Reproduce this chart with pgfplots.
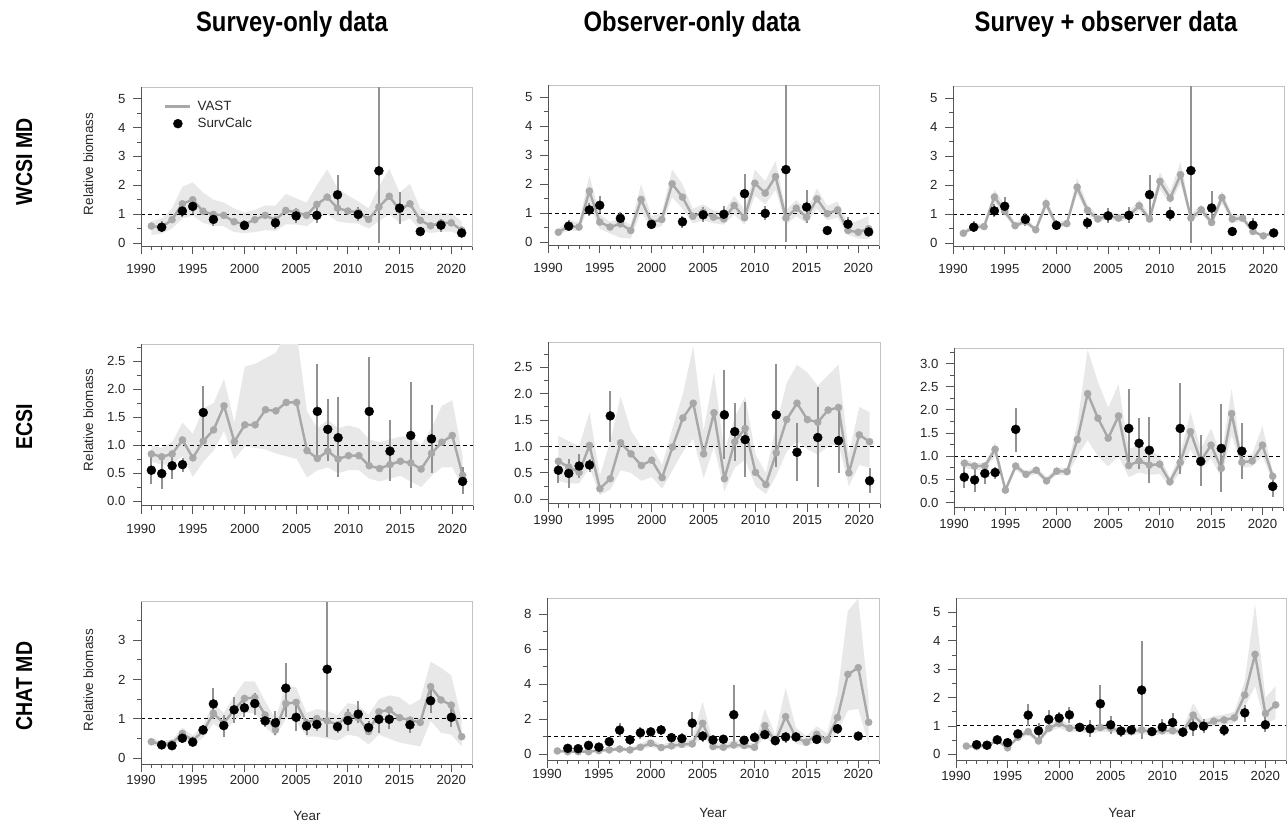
\documentclass[border=0pt]{standalone}
\usepackage{fontspec}
\setmainfont{Liberation Sans}
\newfontfamily\headfont[FakeStretch=0.85]{Liberation Sans}
\usepackage{pgfplots}
\pgfplotsset{compat=1.18}
\usepackage{pgfplotstable}
\usepgfplotslibrary{fillbetween}

\definecolor{band}{RGB}{232,232,232}
\definecolor{vast}{RGB}{168,168,168}
\definecolor{ebar}{RGB}{145,145,145}
\definecolor{frame}{RGB}{195,195,195}
\definecolor{axisdark}{RGB}{85,85,85}

% ---------- WCSI MD ----------
\pgfplotstableread{
yr v lo hi
1991 0.59 0.28 0.75
1992 0.55 0.33 0.85
1993 0.81 0.50 1.20
1994 1.36 0.85 1.95
1995 1.50 0.95 2.10
1996 1.10 0.70 1.75
1997 0.99 0.60 1.50
1998 0.96 0.58 1.40
1999 0.74 0.38 1.20
2000 0.65 0.35 1.05
2001 0.81 0.38 1.15
2002 0.96 0.45 1.30
2003 0.80 0.42 1.30
2004 1.13 0.65 1.70
2005 1.07 0.65 1.55
2006 0.96 0.58 1.40
2007 1.34 0.85 2.00
2008 1.59 1.00 2.55
2009 1.21 0.75 1.90
2010 1.11 0.70 1.65
2011 1.07 0.68 1.45
2012 0.82 0.50 1.20
2013 1.25 0.75 1.95
2014 1.62 1.00 2.57
2015 1.15 0.70 1.75
2016 1.36 0.85 2.05
2017 0.79 0.45 1.20
2018 0.60 0.35 1.00
2019 0.70 0.40 1.05
2020 0.70 0.40 1.05
2021 0.45 0.25 0.75
}\wcsiSurv
\pgfplotstableread{
yr v lo hi
1991 0.34 0.25 0.45
1992 0.55 0.40 0.75
1993 0.52 0.38 0.68
1994 1.76 1.30 2.30
1995 0.69 0.45 0.95
1996 0.52 0.30 0.70
1997 0.63 0.15 0.80
1998 0.40 0.12 0.60
1999 1.47 1.05 2.00
2000 0.68 0.45 0.90
2001 0.78 0.55 1.00
2002 2.01 1.55 2.50
2003 1.55 1.15 2.00
2004 0.89 0.65 1.15
2005 1.03 0.75 1.30
2006 0.86 0.65 1.10
2007 0.80 0.60 1.05
2008 1.26 0.95 1.60
2009 0.84 0.60 1.10
2010 2.03 1.60 2.50
2011 1.69 1.30 2.10
2012 2.26 1.80 2.80
2013 0.83 0.60 1.10
2014 1.17 0.90 1.45
2015 0.86 0.65 1.10
2016 1.49 1.15 1.85
2017 0.98 0.75 1.25
2018 1.11 0.85 1.40
2019 0.40 0.25 0.60
2020 0.34 0.12 0.75
2021 0.46 0.10 0.90
}\wcsiObs
\pgfplotstableread{
yr v lo hi
1991 0.34 0.28 0.42
1992 0.55 0.47 0.65
1993 0.57 0.49 0.67
1994 1.59 1.40 1.85
1995 1.10 0.95 1.30
1996 0.60 0.52 0.70
1997 0.75 0.65 0.88
1998 0.46 0.40 0.54
1999 1.36 1.18 1.60
2000 0.62 0.53 0.72
2001 0.67 0.58 0.78
2002 1.93 1.70 2.25
2003 1.13 0.98 1.32
2004 0.83 0.72 0.96
2005 0.94 0.82 1.08
2006 0.86 0.75 1.00
2007 0.94 0.82 1.08
2008 1.29 1.12 1.50
2009 0.83 0.72 0.96
2010 2.13 1.85 2.45
2011 1.55 1.35 1.80
2012 2.36 2.05 2.80
2013 0.86 0.75 1.00
2014 1.15 1.00 1.33
2015 0.71 0.62 0.82
2016 1.57 1.37 1.80
2017 0.83 0.72 0.96
2018 0.86 0.75 1.00
2019 0.40 0.34 0.47
2020 0.25 0.21 0.30
2021 0.34 0.28 0.40
}\wcsiBoth
\pgfplotstableread{
yr s lo hi
1992 0.55 0.38 0.75
1994 1.11 0.90 1.35
1995 1.27 1.00 1.60
1997 0.82 0.60 1.05
2000 0.61 0.45 0.80
2003 0.70 0.50 0.90
2005 0.94 0.70 1.20
2007 0.96 0.70 1.25
2009 1.67 0.96 2.34
2011 0.99 0.75 1.25
2013 2.50 0.00 5.40
2015 1.21 0.65 1.78
2017 0.40 0.35 0.45
2019 0.62 0.40 0.85
2021 0.35 0.22 0.50
}\wcsiCalc

% ---------- ECSI ----------
\pgfplotstableread{
yr v lo hi
1991 0.84 0.70 1.00
1992 0.79 0.65 0.95
1993 0.84 0.65 1.05
1994 1.09 0.80 1.40
1995 0.77 0.43 1.20
1996 1.07 0.70 1.65
1997 1.27 0.90 1.75
1998 1.70 1.25 2.18
1999 1.06 0.75 1.40
2000 1.36 0.97 2.40
2001 1.36 0.95 2.45
2002 1.63 0.92 2.55
2003 1.61 0.85 2.65
2004 1.76 0.80 3.00
2005 1.76 0.75 3.00
2006 0.90 0.42 1.60
2007 0.76 0.55 1.30
2008 0.89 0.60 1.45
2009 0.75 0.50 1.30
2010 0.81 0.55 1.35
2011 0.81 0.55 1.30
2012 0.63 0.40 1.10
2013 0.58 0.35 1.05
2014 0.65 0.40 1.10
2015 0.71 0.45 1.15
2016 0.68 0.35 1.15
2017 0.57 0.25 1.00
2018 0.85 0.45 1.30
2019 1.05 0.60 1.70
2020 1.17 0.60 1.80
2021 0.46 0.25 0.80
}\ecsiSurv
\pgfplotstableread{
yr v lo hi
1991 0.72 0.35 1.20
1992 0.61 0.30 1.10
1993 0.51 0.30 1.00
1994 1.02 0.60 1.65
1995 0.20 0.08 0.45
1996 0.39 0.18 1.10
1997 1.07 0.55 1.95
1998 0.86 0.50 1.30
1999 0.64 0.35 1.00
2000 0.74 0.42 1.00
2001 0.41 0.20 0.65
2002 0.99 0.55 1.35
2003 1.54 0.90 2.00
2004 1.82 1.15 2.90
2005 0.86 0.40 1.30
2006 1.64 1.00 2.40
2007 0.39 0.15 0.90
2008 1.09 0.60 1.55
2009 1.34 0.75 1.95
2010 0.51 0.25 0.85
2011 0.28 0.10 0.50
2012 0.88 0.45 1.40
2013 1.51 0.90 2.20
2014 1.82 1.10 2.55
2015 1.51 0.95 2.40
2016 1.46 0.85 2.15
2017 1.69 1.00 2.35
2018 1.74 1.05 2.55
2019 0.50 0.25 0.85
2020 1.22 0.65 1.75
2021 1.09 0.60 1.65
}\ecsiObs
\pgfplotstableread{
yr v lo hi
1991 0.85 0.75 0.95
1992 0.79 0.70 0.85
1993 0.79 0.72 0.85
1994 1.15 1.00 1.30
1995 0.27 0.22 0.35
1996 0.79 0.70 0.85
1997 0.61 0.55 0.68
1998 0.70 0.62 0.77
1999 0.47 0.42 0.55
2000 0.68 0.60 0.75
2001 0.67 0.58 0.75
2002 1.36 1.00 1.70
2003 2.35 1.35 3.30
2004 1.82 1.00 2.60
2005 1.39 0.78 2.05
2006 1.87 1.00 2.55
2007 0.80 0.55 1.15
2008 0.90 0.65 1.25
2009 0.81 0.60 1.15
2010 0.83 0.62 1.00
2011 0.45 0.35 0.55
2012 0.87 0.65 1.05
2013 1.53 1.15 1.95
2014 0.90 0.72 1.15
2015 1.24 0.95 1.60
2016 0.74 0.55 1.00
2017 1.92 1.45 2.45
2018 0.87 0.75 1.00
2019 0.90 0.78 1.05
2020 1.24 1.00 1.65
2021 0.57 0.45 0.68
}\ecsiBoth
\pgfplotstableread{
yr s lo hi
1991 0.55 0.31 0.78
1992 0.49 0.22 0.76
1993 0.63 0.40 0.85
1994 0.65 0.52 0.77
1996 1.58 1.09 2.05
2007 1.60 0.77 2.44
2008 1.28 0.72 1.83
2009 1.13 0.42 1.85
2012 1.60 0.62 2.57
2014 0.89 0.35 1.45
2016 1.17 0.23 2.12
2018 1.11 0.50 1.72
2021 0.35 0.12 0.60
}\ecsiCalc

% ---------- CHAT MD ----------
\pgfplotstableread{
yr v lo hi
1991 0.42 0.33 0.50
1992 0.36 0.28 0.45
1993 0.38 0.30 0.47
1994 0.63 0.48 0.78
1995 0.46 0.35 0.58
1996 0.68 0.52 0.85
1997 1.14 0.88 1.40
1998 0.89 0.68 1.15
1999 1.23 0.95 1.58
2000 1.52 1.15 1.95
2001 1.54 1.15 1.95
2002 1.10 0.80 1.45
2003 0.72 0.55 1.00
2004 1.39 1.00 1.85
2005 1.42 0.95 1.80
2006 0.89 0.55 1.15
2007 1.01 0.55 1.25
2008 0.95 0.50 1.20
2009 0.85 0.45 1.10
2010 1.10 0.60 1.40
2011 1.03 0.55 1.35
2012 0.68 0.35 1.10
2013 1.18 0.60 1.50
2014 1.23 0.50 1.60
2015 1.03 0.40 1.55
2016 0.97 0.35 1.35
2017 0.91 0.30 1.50
2018 1.82 0.95 2.45
2019 1.48 0.65 2.30
2020 1.35 0.60 2.10
2021 0.55 0.30 1.00
}\chatSurv
\pgfplotstableread{
yr v lo hi
1991 0.19 0.12 0.25
1992 0.15 0.10 0.22
1993 0.15 0.10 0.22
1994 0.15 0.10 0.22
1995 0.21 0.14 0.30
1996 0.25 0.17 0.35
1997 0.30 0.20 0.45
1998 0.25 0.17 0.38
1999 0.40 0.27 0.60
2000 0.63 0.42 0.90
2001 0.38 0.25 0.55
2002 0.48 0.32 0.70
2003 0.57 0.38 0.85
2004 0.59 0.40 0.90
2005 1.77 1.05 3.00
2006 0.44 0.28 0.70
2007 0.40 0.26 0.60
2008 0.53 0.35 0.80
2009 0.50 0.33 0.75
2010 0.40 0.27 0.60
2011 1.64 1.00 2.60
2012 0.72 0.47 1.10
2013 2.15 1.20 3.80
2014 0.95 0.60 1.50
2015 0.69 0.45 1.05
2016 1.14 0.75 1.60
2017 0.82 0.55 1.20
2018 2.10 1.25 3.50
2019 4.57 2.50 8.20
2020 4.95 2.60 8.90
2021 1.83 0.55 3.20
}\chatObs
\pgfplotstableread{
yr v lo hi
1991 0.29 0.25 0.33
1992 0.27 0.23 0.31
1993 0.31 0.27 0.35
1994 0.48 0.42 0.55
1995 0.23 0.19 0.28
1996 0.60 0.52 0.68
1997 0.80 0.68 0.92
1998 0.47 0.40 0.55
1999 0.92 0.78 1.05
2000 1.09 0.93 1.25
2001 0.92 0.78 1.05
2002 0.94 0.80 1.07
2003 0.86 0.72 1.00
2004 0.94 0.80 1.08
2005 0.92 0.78 1.05
2006 0.82 0.68 0.95
2007 0.80 0.67 0.92
2008 0.86 0.72 0.98
2009 0.80 0.67 0.92
2010 0.83 0.70 0.95
2011 0.83 0.70 0.95
2012 0.80 0.67 0.93
2013 1.38 1.05 1.80
2014 1.03 0.88 1.20
2015 1.17 1.00 1.35
2016 1.21 1.03 1.40
2017 1.29 1.10 1.50
2018 2.09 1.65 2.60
2019 3.52 2.40 5.30
2020 1.44 1.05 2.00
2021 1.74 1.25 2.40
}\chatBoth
\pgfplotstableread{
yr s lo hi
1992 0.34 0.25 0.45
1993 0.32 0.25 0.42
1994 0.51 0.38 0.65
1995 0.41 0.30 0.55
1996 0.72 0.60 0.85
1997 1.38 1.01 1.78
1998 0.83 0.55 1.10
1999 1.23 0.90 1.55
2000 1.28 1.05 1.50
2001 1.39 1.10 1.65
2002 0.95 0.80 1.10
2003 0.90 0.60 1.20
2004 1.78 1.06 2.43
2005 1.04 0.70 1.35
2006 0.82 0.60 1.00
2007 0.86 0.70 1.00
2008 2.26 0.55 3.98
2009 0.80 0.65 0.95
2010 0.96 0.70 1.25
2011 1.12 0.90 1.45
2012 0.78 0.60 0.95
2013 0.99 0.65 1.25
2014 0.99 0.75 1.25
2016 0.85 0.65 1.00
2018 1.46 1.15 1.75
2020 1.04 0.80 1.30
}\chatCalc

\pgfplotsset{
  panel/.style={
    scale only axis, anchor=south west,
    xmin=1990, xmax=2022,
    axis line style={draw=frame, line width=0.8pt},
    tick align=outside, tick pos=left,
    major tick length=8pt, minor tick length=4pt,
    tick style={axisdark, line width=0.8pt},
    xtick={1990,1995,...,2020},
    xticklabels={1990,1995,2000,2005,2010,2015,2020},
    minor xtick={1991,...,2022},
    ticklabel style={font=\fontsize{13.2}{14}\selectfont, text=black!85},
    yticklabel style={xshift=-4pt},
    after end axis/.code={\draw[axisdark, line width=0.9pt] (rel axis cs:0,1) -- (rel axis cs:0,0) -- (rel axis cs:1,0);},
  },
  lowlabels/.style={xticklabel style={yshift=-7pt}},
  row1/.style={lowlabels, ymin=-0.1, ymax=5.4, ytick={0,...,5}, yticklabels={0,1,2,3,4,5}, minor ytick={0.5,1.5,...,5}},
  row2/.style={ytick={0,0.5,...,2.5}, yticklabels={0.0,0.5,1.0,1.5,2.0,2.5}, minor ytick={0.25,0.75,...,2.8}},
  linelegend/.style={legend image code/.code={\draw[##1] (0pt,0pt) -- (25pt,0pt);}},
  dotlegend/.style={legend image code/.code={\draw[mark repeat=2, mark phase=2, ##1] plot coordinates {(0pt,0pt) (12.5pt,0pt) (25pt,0pt)};}},
}

% one VAST series: band, reference line at 1, index line with points
\newcommand{\vastseries}[1]{%
  \addplot[name path=up, draw=none, forget plot] table[x=yr, y=hi]{#1};
  \addplot[name path=dn, draw=none, forget plot] table[x=yr, y=lo]{#1};
  \addplot[fill=band, draw=none, forget plot] fill between[of=up and dn];
  \addplot[black, line width=1pt, dash pattern=on 4pt off 3pt, forget plot] coordinates {(1990,1) (2022,1)};
  \addplot[vast, line width=2.4pt, line join=round, mark=*, mark size=3.6pt,
    mark options={solid, fill=vast, draw=vast, line width=0.3pt}, forget plot] table[x=yr, y=v]{#1};
}
% survey estimates with their intervals
\newcommand{\calcseries}[1]{%
  \addplot[draw=none, mark=none, forget plot,
    error bars/.cd, y dir=both, y explicit, error mark=none,
    error bar style={draw=ebar, line width=2pt}]
    table[x=yr, y=s, y error plus expr=\thisrow{hi}-\thisrow{s}, y error minus expr=\thisrow{s}-\thisrow{lo}]{#1};
  \addplot[only marks, mark=*, mark size=4.5pt, black, forget plot] table[x=yr, y=s]{#1};
}

\begin{document}
\begin{tikzpicture}

% column and row headings
\begin{scope}[every node/.style={font=\headfont\bfseries\fontsize{28}{30}\selectfont}]
\node[anchor=base] at (292pt,791pt) {Survey-only data};
\node[anchor=base] at (692pt,791pt) {Observer-only data};
\node[anchor=base] at (1106pt,791pt) {Survey + observer data};
\end{scope}
\begin{scope}[every node/.style={font=\headfont\bfseries\fontsize{23}{25}\selectfont, rotate=90, anchor=base}]
\node at (32pt,661pt) {WCSI MD};
\node at (32pt,396pt) {ECSI};
\node at (32pt,137pt) {CHAT MD};
\end{scope}
\begin{scope}[every node/.style={font=\fontsize{13.4}{15}\selectfont, text=black!85}]
\node[rotate=90, anchor=base] at (93pt,659pt) {Relative biomass};
\node[rotate=90, anchor=base] at (93pt,403pt) {Relative biomass};
\node[rotate=90, anchor=base] at (93pt,143pt) {Relative biomass};
\node[anchor=base] at (307pt,3pt) {Year};
\node[anchor=base] at (713pt,6pt) {Year};
\node[anchor=base] at (1122pt,6pt) {Year};
\end{scope}

% ---------------- row 1: WCSI MD ----------------
\begin{axis}[panel, row1, at={(141pt,577pt)}, width=331pt, height=159pt,
  legend style={at={(0,1)}, anchor=north west, xshift=20pt, yshift=-10pt, draw=none, fill=none,
    font=\fontsize{13.4}{15}\selectfont, text=black!85, row sep=2pt, column sep=4pt},
  legend cell align=left]
\addlegendimage{vast, line width=2.4pt, linelegend}
\addlegendentry{VAST}
\addlegendimage{black, only marks, mark=*, mark size=4.5pt, dotlegend}
\addlegendentry{SurvCalc}
\vastseries{\wcsiSurv}
\calcseries{\wcsiCalc}
\end{axis}

\begin{axis}[panel, row1, at={(548pt,578pt)}, width=331pt, height=159.5pt]
\vastseries{\wcsiObs}
\calcseries{\wcsiCalc}
\end{axis}

\begin{axis}[panel, row1, at={(953pt,577pt)}, width=331pt, height=159.5pt]
\vastseries{\wcsiBoth}
\calcseries{\wcsiCalc}
\end{axis}

% ---------------- row 2: ECSI ----------------
\begin{axis}[panel, row2, lowlabels, ymin=-0.08, ymax=2.8, at={(141pt,317.5pt)}, width=332pt, height=161.3pt]
\vastseries{\ecsiSurv}
\calcseries{\ecsiCalc}
\end{axis}

\begin{axis}[panel, row2, ymin=-0.08, ymax=2.97, at={(548pt,319.5pt)}, width=332pt, height=161pt]
\vastseries{\ecsiObs}
\calcseries{\ecsiCalc}
\end{axis}

\begin{axis}[panel, ymin=-0.1, ymax=3.33, at={(954pt,315.7pt)}, width=329pt, height=159.1pt,
  ytick={0,0.5,...,3}, yticklabels={0.0,0.5,1.0,1.5,2.0,2.5,3.0}, minor ytick={0.25,0.75,...,3.3}]
\vastseries{\ecsiBoth}
\calcseries{\ecsiCalc}
\end{axis}

% ---------------- row 3: CHAT MD ----------------
\begin{axis}[panel, ymin=-0.15, ymax=3.97, at={(141pt,58.8pt)}, width=331pt, height=162.3pt,
  ytick={0,...,3}, yticklabels={0,1,2,3}, minor ytick={0.5,1.5,...,3.9}]
\vastseries{\chatSurv}
\calcseries{\chatCalc}
\end{axis}

\begin{axis}[panel, ymin=-0.35, ymax=8.91, at={(547pt,62.6pt)}, width=332pt, height=162pt,
  ytick={0,2,...,8}, yticklabels={0,2,4,6,8}, minor ytick={1,3,...,7}, xticklabel style={yshift=3pt}]
\vastseries{\chatObs}
\calcseries{\chatCalc}
\end{axis}

\begin{axis}[panel, ymin=-0.2, ymax=5.49, at={(956pt,63pt)}, width=330pt, height=161.6pt,
  ytick={0,...,5}, yticklabels={0,1,2,3,4,5}, minor ytick={0.5,1.5,...,5.4}]
\vastseries{\chatBoth}
\calcseries{\chatCalc}
\end{axis}

% page extent
\pgfresetboundingbox
\useasboundingbox (0pt,0pt) rectangle (1288pt,823pt);
\end{tikzpicture}
\end{document}
